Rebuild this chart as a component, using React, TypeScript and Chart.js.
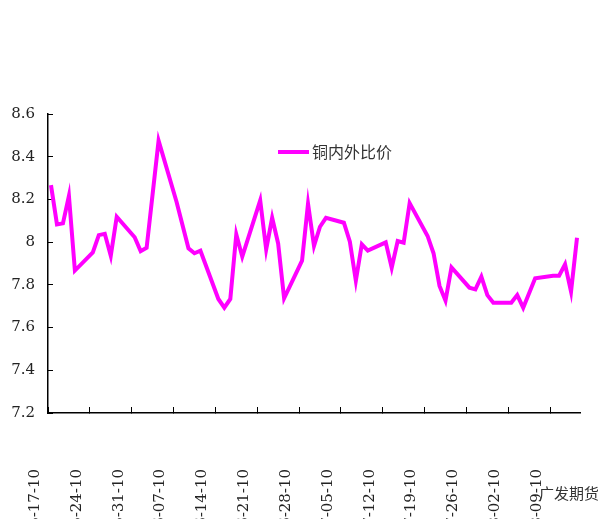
import { useEffect, useRef } from "react";
import { Chart, registerables } from "chart.js";

Chart.register(...registerables);

const seriesLabel = "铜内外比价";
const watermarkText = "广发期货";

const dates = [
  "2010-05-17", "2010-05-18", "2010-05-19", "2010-05-20", "2010-05-21",
  "2010-05-24", "2010-05-25", "2010-05-26", "2010-05-27", "2010-05-28",
  "2010-05-31", "2010-06-01", "2010-06-02", "2010-06-04",
  "2010-06-07", "2010-06-09", "2010-06-10", "2010-06-11",
  "2010-06-14", "2010-06-15", "2010-06-16", "2010-06-17", "2010-06-18",
  "2010-06-21", "2010-06-22", "2010-06-23", "2010-06-24", "2010-06-25",
  "2010-06-28", "2010-06-29", "2010-06-30", "2010-07-01", "2010-07-02",
  "2010-07-05", "2010-07-06", "2010-07-07", "2010-07-08", "2010-07-09",
  "2010-07-12", "2010-07-13", "2010-07-14", "2010-07-15", "2010-07-16",
  "2010-07-19", "2010-07-20", "2010-07-21", "2010-07-22", "2010-07-23",
  "2010-07-26", "2010-07-27", "2010-07-28", "2010-07-29", "2010-07-30",
  "2010-08-02", "2010-08-03", "2010-08-04", "2010-08-06",
  "2010-08-09", "2010-08-10", "2010-08-11", "2010-08-12", "2010-08-13",
];

const values = [
  8.267, 8.083, 8.088, 8.217, 7.867,
  7.952, 8.033, 8.039, 7.936, 8.119,
  8.023, 7.958, 7.974, 8.475,
  8.189, 7.971, 7.948, 7.96,
  7.734, 7.693, 7.734, 8.037, 7.932,
  8.196, 7.966, 8.114, 7.994, 7.737,
  7.913, 8.18, 7.982, 8.072, 8.114,
  8.091, 8.002, 7.819, 7.99, 7.96,
  7.999, 7.88, 8.005, 7.997, 8.183,
  8.029, 7.948, 7.795, 7.726, 7.882,
  7.787, 7.779, 7.838, 7.752, 7.716,
  7.716, 7.752, 7.693, 7.831,
  7.843, 7.843, 7.896, 7.768, 8.021,
];

const xStartDate = "2010-05-17";
const xEndDate = "2010-08-14";

const xTickDates = [
  "2010-05-17", "2010-05-24", "2010-05-31", "2010-06-07", "2010-06-14",
  "2010-06-21", "2010-06-28", "2010-07-05", "2010-07-12", "2010-07-19",
  "2010-07-26", "2010-08-02", "2010-08-09",
];
const xTickLabels = [
  "05-17-10", "05-24-10", "05-31-10", "06-07-10", "06-14-10",
  "06-21-10", "06-28-10", "07-05-10", "07-12-10", "07-19-10",
  "07-26-10", "08-02-10", "08-09-10",
];

const yTickValues = [7.2, 7.4, 7.6, 7.8, 8, 8.2, 8.4, 8.6];
const yTickLabels = ["7.2", "7.4", "7.6", "7.8", "8", "8.2", "8.4", "8.6"];

const DAY = 86400000;
const dayOf = (s: string) => (Date.parse(s) - Date.parse(xStartDate)) / DAY;

const overlayPlugin = {
  id: "overlayLegend",
  afterDraw(chart: any) {
    const ctx = chart.ctx as CanvasRenderingContext2D;
    const ds = chart.data.datasets[0];
    ctx.save();
    ctx.strokeStyle = ds.borderColor;
    ctx.lineWidth = 4;
    ctx.beginPath();
    ctx.moveTo(270, 144);
    ctx.lineTo(301, 144);
    ctx.stroke();
    ctx.fillStyle = "#333";
    ctx.textBaseline = "middle";
    ctx.textAlign = "left";
    ctx.font = '16px "Noto Sans CJK SC"';
    ctx.fillText(ds.label, 304, 144);
    ctx.font = '15px "Noto Sans CJK SC"';
    ctx.fillText(watermarkText, 531, 485);
    ctx.restore();
  },
};

const zeroPad = (scale: any) => {
  scale.paddingLeft = 0;
  scale.paddingRight = 0;
  scale.paddingTop = 0;
  scale.paddingBottom = 0;
};

export default function App() {
  const ref = useRef<HTMLCanvasElement | null>(null);

  useEffect(() => {
    if (!ref.current) return;
    const tickFont = { family: '"DejaVu Serif"', size: 15 };
    const chart = new Chart(ref.current, {
      type: "line",
      data: {
        datasets: [
          {
            label: seriesLabel,
            data: dates.map((d, i) => ({ x: dayOf(d) + 0.5, y: values[i] })),
            borderColor: "#FF00FF",
            backgroundColor: "#FF00FF",
            borderWidth: 4,
            pointRadius: 0,
            tension: 0,
            fill: false,
          },
        ],
      },
      options: {
        animation: false,
        responsive: false,
        layout: { padding: { top: 106, right: 18, left: 0, bottom: 0 } },
        plugins: {
          legend: { display: false },
          tooltip: { enabled: false },
        },
        scales: {
          x: {
            type: "linear",
            min: 0,
            max: dayOf(xEndDate),
            afterBuildTicks: (scale: any) => {
              scale.ticks = xTickDates.map((d) => ({ value: dayOf(d) }));
            },
            afterFit: (scale: any) => {
              scale.height = 106;
              zeroPad(scale);
            },
            grid: {
              drawOnChartArea: false,
              tickLength: -6,
              color: "#000",
              lineWidth: 1,
            },
            border: { display: true, color: "#000", width: 1.5 },
            ticks: {
              autoSkip: false,
              minRotation: 90,
              maxRotation: 90,
              padding: 62,
              labelOffset: -13,
              color: "#222",
              font: tickFont,
              callback: (_v: any, i: number) => xTickLabels[i],
            },
          },
          y: {
            min: 7.2,
            max: 8.6,
            afterBuildTicks: (scale: any) => {
              scale.ticks = yTickValues.map((v) => ({ value: v }));
            },
            afterFit: (scale: any) => {
              scale.width = 40;
              zeroPad(scale);
            },
            grid: {
              drawOnChartArea: false,
              tickLength: -5,
              color: "#000",
              lineWidth: 1,
            },
            border: { display: true, color: "#000", width: 1.5 },
            ticks: {
              padding: 18,
              color: "#222",
              font: tickFont,
              callback: (_v: any, i: number) => yTickLabels[i],
            },
          },
        },
      },
      plugins: [overlayPlugin],
    } as any);
    return () => chart.destroy();
  }, []);

  return (
    <div style={{ width: 590, height: 511 }}>
      <canvas ref={ref} width={590} height={511} style={{ display: "block" }} />
    </div>
  );
}
